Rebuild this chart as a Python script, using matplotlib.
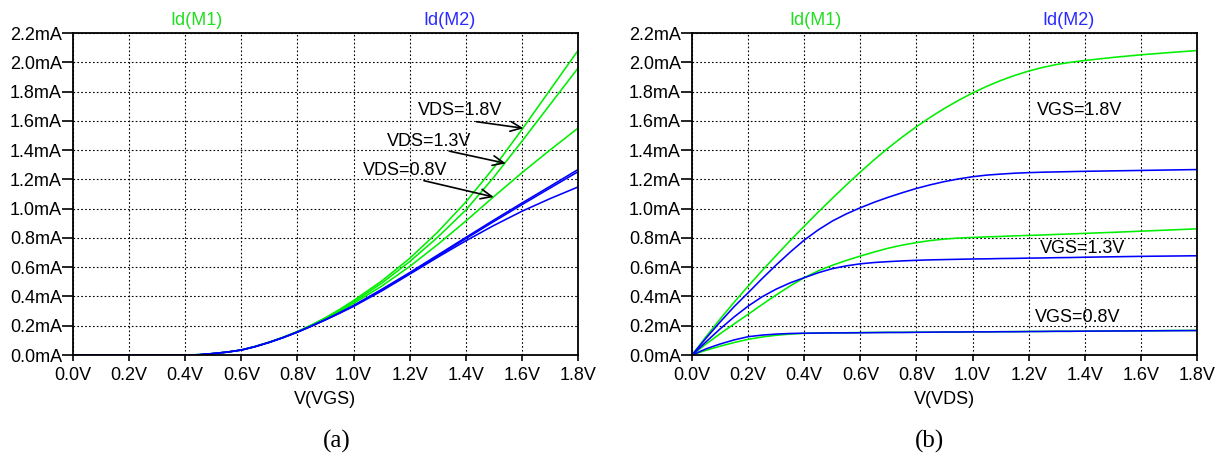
import matplotlib
matplotlib.use("Agg")
import matplotlib.pyplot as plt
from matplotlib.ticker import FuncFormatter, MultipleLocator

plt.rcParams["font.family"] = ["Liberation Sans", "DejaVu Sans"]

# ---- (a) drain current (mA) vs gate voltage (V) ----
vgs = [0.0, 0.1, 0.2, 0.3, 0.4, 0.45, 0.5, 0.55, 0.6, 0.65, 0.7, 0.75, 0.8,
       0.85, 0.9, 0.95, 1.0, 1.1, 1.2, 1.3, 1.4, 1.5, 1.6, 1.7, 1.8]
m1_vds18 = [0, 0, 0, 0, 0, 0.002, 0.010, 0.020, 0.034, 0.059, 0.088, 0.122, 0.160,
            0.205, 0.255, 0.311, 0.372, 0.505, 0.660, 0.840, 1.045, 1.280, 1.540, 1.810, 2.080]
m1_vds13 = [0, 0, 0, 0, 0, 0.002, 0.010, 0.020, 0.034, 0.059, 0.088, 0.122, 0.160,
            0.204, 0.252, 0.305, 0.362, 0.490, 0.638, 0.805, 0.990, 1.215, 1.460, 1.710, 1.960]
m1_vds08 = [0, 0, 0, 0, 0, 0.002, 0.010, 0.020, 0.034, 0.058, 0.087, 0.121, 0.158,
            0.201, 0.248, 0.298, 0.352, 0.470, 0.605, 0.755, 0.915, 1.082, 1.245, 1.400, 1.550]
m2_vds18 = [0, 0, 0, 0, 0, 0.002, 0.010, 0.020, 0.034, 0.058, 0.087, 0.120, 0.157,
            0.198, 0.242, 0.289, 0.338, 0.448, 0.563, 0.683, 0.803, 0.922, 1.038, 1.152, 1.267]
m2_vds13 = [0, 0, 0, 0, 0, 0.002, 0.010, 0.020, 0.034, 0.058, 0.087, 0.120, 0.157,
            0.198, 0.241, 0.287, 0.336, 0.445, 0.558, 0.676, 0.795, 0.912, 1.027, 1.140, 1.252]
m2_vds08 = [0, 0, 0, 0, 0, 0.002, 0.010, 0.020, 0.034, 0.057, 0.086, 0.119, 0.156,
            0.197, 0.240, 0.285, 0.332, 0.437, 0.552, 0.668, 0.780, 0.885, 0.982, 1.068, 1.148]

# ---- (b) drain current (mA) vs drain voltage (V) ----
vds = [0.0, 0.05, 0.1, 0.15, 0.2, 0.25, 0.3, 0.35, 0.4, 0.45, 0.5, 0.55, 0.6, 0.65,
       0.7, 0.75, 0.8, 0.85, 0.9, 0.95, 1.0, 1.05, 1.1, 1.15, 1.2, 1.25, 1.3, 1.35,
       1.4, 1.5, 1.6, 1.7, 1.8]
m1_vgs18 = [0, 0.125, 0.245, 0.360, 0.470, 0.577, 0.680, 0.782, 0.880, 0.977, 1.070,
            1.162, 1.250, 1.335, 1.415, 1.490, 1.560, 1.625, 1.685, 1.740, 1.790, 1.835,
            1.875, 1.910, 1.940, 1.965, 1.985, 2.000, 2.012, 2.033, 2.051, 2.066, 2.080]
m2_vgs18 = [0, 0.115, 0.225, 0.330, 0.425, 0.522, 0.615, 0.703, 0.785, 0.855, 0.915,
            0.964, 1.006, 1.044, 1.078, 1.109, 1.138, 1.163, 1.185, 1.203, 1.218, 1.229,
            1.236, 1.242, 1.246, 1.249, 1.251, 1.253, 1.255, 1.258, 1.261, 1.264, 1.267]
m1_vgs13 = [0, 0.075, 0.145, 0.212, 0.278, 0.345, 0.410, 0.472, 0.528, 0.575, 0.613,
            0.646, 0.676, 0.704, 0.730, 0.751, 0.768, 0.782, 0.792, 0.799, 0.803, 0.807,
            0.810, 0.814, 0.817, 0.820, 0.824, 0.827, 0.831, 0.838, 0.846, 0.854, 0.862]
m2_vgs13 = [0, 0.090, 0.178, 0.260, 0.334, 0.398, 0.450, 0.493, 0.528, 0.562, 0.590,
            0.609, 0.623, 0.632, 0.638, 0.643, 0.647, 0.650, 0.652, 0.654, 0.656, 0.657,
            0.659, 0.660, 0.662, 0.663, 0.665, 0.666, 0.668, 0.671, 0.674, 0.676, 0.678]
m1_vgs08 = [0, 0.032, 0.060, 0.085, 0.107, 0.123, 0.135, 0.143, 0.148, 0.150, 0.151,
            0.152, 0.153, 0.154, 0.155, 0.155, 0.156, 0.156, 0.157, 0.157, 0.158, 0.158,
            0.159, 0.160, 0.161, 0.161, 0.162, 0.162, 0.163, 0.164, 0.165, 0.167, 0.168]
m2_vgs08 = [0, 0.042, 0.075, 0.103, 0.125, 0.136, 0.143, 0.147, 0.149, 0.150, 0.151,
            0.151, 0.152, 0.153, 0.154, 0.154, 0.155, 0.156, 0.157, 0.157, 0.158, 0.158,
            0.159, 0.159, 0.160, 0.161, 0.162, 0.162, 0.163, 0.164, 0.165, 0.166, 0.167]

GREEN = "#00ee00"
BLUE = "#0000ff"
LW = 1.15
W, H = 1226, 458

fig = plt.figure(figsize=(W / 100, H / 100), dpi=100)


def make_axes(left_px):
    ax = fig.add_axes([left_px / W, 1 - 355 / H, 505 / W, 322 / H])
    ax.set_xlim(0, 1.8)
    ax.set_ylim(0, 2.2)
    ax.xaxis.set_major_locator(MultipleLocator(0.2))
    ax.yaxis.set_major_locator(MultipleLocator(0.2))
    ax.xaxis.set_major_formatter(FuncFormatter(lambda v, p: f"{v:.1f}V"))
    ax.yaxis.set_major_formatter(FuncFormatter(lambda v, p: f"{v:.1f}mA"))
    ax.tick_params(axis="both", direction="out", width=1.2,
                   labelsize=13, colors="black")
    ax.tick_params(axis="y", length=8, pad=0)
    ax.tick_params(axis="x", length=4.5, pad=4)
    ax.grid(True, color="black", linestyle=(0, (1.5, 2.0)), linewidth=0.8)
    for s in ax.spines.values():
        s.set_linewidth(1.3)
    ax.text(0.245, 1.038, "Id(M1)", color="#22dd22", fontsize=13,
            ha="center", va="center", transform=ax.transAxes)
    ax.text(0.745, 1.038, "Id(M2)", color="#2a2aff", fontsize=13,
            ha="center", va="center", transform=ax.transAxes)
    return ax


axa = make_axes(73)
for ys in (m1_vds08, m1_vds13, m1_vds18):
    axa.plot(vgs, ys, color=GREEN, lw=LW)
for ys in (m2_vds08, m2_vds13, m2_vds18):
    axa.plot(vgs, ys, color=BLUE, lw=LW)

arrow_style = dict(arrowstyle="->,head_length=0.8,head_width=0.35",
                   color="black", lw=1.2, shrinkA=0, shrinkB=0)
labels_a = [("VDS=1.8V", (1.231, 1.673), (1.438, 1.594), (1.606, 1.549)),
            ("VDS=1.3V", (1.118, 1.462), (1.341, 1.393), (1.543, 1.309)),
            ("VDS=0.8V", (1.032, 1.263), (1.251, 1.191), (1.500, 1.079))]
for txt, pos, tail, head in labels_a:
    axa.text(pos[0], pos[1], txt, fontsize=13, ha="left", va="center")
    axa.annotate("", xy=head, xytext=tail, arrowprops=arrow_style)

axb = make_axes(692)
for g, b in ((m1_vgs18, m2_vgs18), (m1_vgs13, m2_vgs13), (m1_vgs08, m2_vgs08)):
    axb.plot(vds, g, color=GREEN, lw=LW)
    axb.plot(vds, b, color=BLUE, lw=LW)

for txt, pos in (("VGS=1.8V", (1.228, 1.673)),
                 ("VGS=1.3V", (1.240, 0.729)),
                 ("VGS=0.8V", (1.222, 0.258))):
    axb.text(pos[0], pos[1], txt, fontsize=13, ha="left", va="center")

fig.text(325 / W, 1 - 399 / H, "V(VGS)", fontsize=13, ha="center", va="center")
fig.text(944 / W, 1 - 399 / H, "V(VDS)", fontsize=13, ha="center", va="center")
fig.text(337 / W, 1 - 441 / H, "(a)", fontsize=18, ha="center", va="center",
         family=["Liberation Serif", "DejaVu Serif"])
fig.text(930 / W, 1 - 441 / H, "(b)", fontsize=18, ha="center", va="center",
         family=["Liberation Serif", "DejaVu Serif"])

fig.savefig("out.png", dpi=100, facecolor="white")
